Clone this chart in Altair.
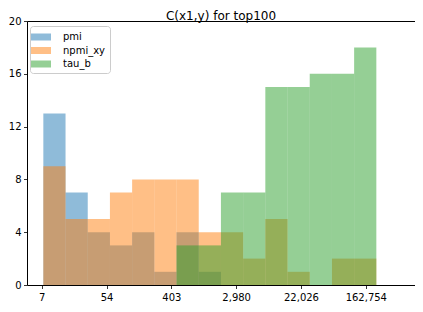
import altair as alt
import pandas as pd

# ln-space bin edges (shared by all three histograms)
bin_edges = [2.05, 2.735, 3.42, 4.105, 4.79, 5.475, 6.16, 6.845, 7.53, 8.215,
             8.90, 9.585, 10.27, 10.955, 11.64, 12.325]

series_names = ["pmi", "npmi_xy", "tau_b"]
pmi_counts = [13, 7, 4, 3, 4, 1, 4, 1, 0, 0, 0, 0, 0, 0, 0]
npmi_counts = [9, 5, 5, 7, 8, 8, 8, 4, 4, 2, 5, 1, 0, 2, 2]
tau_counts = [0, 0, 0, 0, 0, 0, 3, 3, 7, 7, 15, 15, 16, 16, 18]

tick_values = [2, 4, 6, 8, 10, 12]
tick_labels = ["7", "54", "403", "2,980", "22,026", "162,754"]
y_ticks = [0, 4, 8, 12, 16, 20]
colors = ["#1f77b4", "#ff7f0e", "#2ca02c"]

rows = []
for k, (name, counts) in enumerate(zip(series_names, [pmi_counts, npmi_counts, tau_counts])):
    for i, c in enumerate(counts):
        if c > 0:
            rows.append({"series": name, "k": k, "start": bin_edges[i],
                         "end": bin_edges[i + 1], "count": c})
df = pd.DataFrame(rows)

label_expr = " : ".join(
    f"datum.value == {v} ? '{l}'" for v, l in zip(tick_values, tick_labels)
) + " : ''"

legend_path = "M-1.4286,-0.5H1.4286V0.5H-1.4286Z"

chart = alt.Chart(df).mark_rect(opacity=0.5, strokeWidth=0).encode(
    x=alt.X("start:Q", scale=alt.Scale(domain=[1.546, 13.518], nice=False, zero=False),
            axis=alt.Axis(values=tick_values, labelExpr=label_expr, title=None)),
    x2="end:Q",
    y=alt.Y("count:Q", stack=None,
            scale=alt.Scale(domain=[0, 20], nice=False, zero=True),
            axis=alt.Axis(values=y_ticks, title=None, labelPadding=2.5)),
    y2=alt.Y2(datum=0),
    color=alt.Color("series:N",
                    scale=alt.Scale(domain=series_names, range=colors),
                    sort=series_names,
                    legend=alt.Legend(title=None, orient="none", legendX=3, legendY=5,
                                      symbolType=legend_path, symbolSize=196,
                                      symbolOpacity=0.5, symbolStrokeWidth=0,
                                      labelOffset=15, labelFontSize=10,
                                      labelFont="DejaVu Sans", labelColor="#000",
                                      padding=4, rowPadding=1.5,
                                      fillColor="white", strokeColor="#cccccc",
                                      cornerRadius=3)),
    order=alt.Order("k:Q"),
).properties(
    width=388, height=264,
    title=alt.TitleParams("C(x1,y) for top100", fontSize=12, font="DejaVu Sans",
                          fontWeight="normal", color="#000", anchor="middle",
                          frame="group", baseline="alphabetic", offset=3, dy=19),
    autosize=alt.AutoSizeParams(type="none"),
    padding={"left": 19, "top": 13, "right": 0, "bottom": 19},
).configure_view(
    stroke="#000", strokeWidth=1
).configure_axis(
    domain=False, grid=False, tickColor="#000", tickSize=3.5, tickWidth=0.8,
    labelFont="DejaVu Sans", labelFontSize=10, labelColor="#000", labelPadding=3.5
)

chart.save("out.html", embed_options={"renderer": "svg", "actions": False})
